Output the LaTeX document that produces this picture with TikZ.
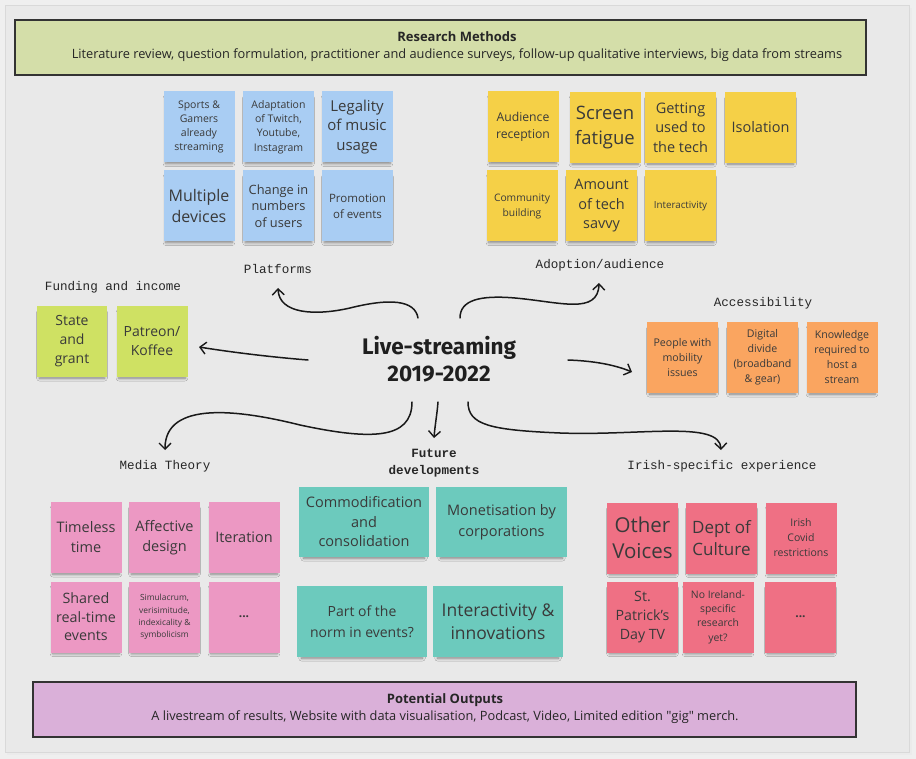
\documentclass[tikz,border=0pt]{standalone}
\usepackage{fontspec}
\setmainfont{Open Sans}
\newfontfamily\quotefont{Open Sans}
\newfontfamily\labfont{Liberation Mono}
\newfontfamily\hubfont{Fira Sans}
\usetikzlibrary{arrows.meta,shadows.blur}
\definecolor{bgout}{HTML}{EFEFEF}
\definecolor{bgpanel}{HTML}{E9E9E9}
\definecolor{rmgreen}{HTML}{D4DEA9}
\definecolor{popurple}{HTML}{DAB0D9}
\definecolor{nblue}{HTML}{A9CDF3}
\definecolor{nyellow}{HTML}{F5D047}
\definecolor{nlime}{HTML}{CFE163}
\definecolor{norange}{HTML}{FAA560}
\definecolor{npink}{HTML}{EC98C3}
\definecolor{nteal}{HTML}{6CCABD}
\definecolor{nred}{HTML}{EF7084}
\definecolor{ntext}{HTML}{3A3A3A}
\newcommand\fsz[2]{\fontsize{#1}{#2}\selectfont}
\begin{document}
\begin{tikzpicture}[x=1pt,y=-1pt,
  note/.style={rectangle, minimum width=71pt, minimum height=71pt, inner sep=1pt,
    align=center, text=ntext,
    blur shadow={shadow xshift=0pt, shadow yshift=-4pt, shadow scale=0.93,
      shadow opacity=45, shadow blur steps=6, shadow blur radius=3pt}},
  wide/.style={minimum width=130pt, minimum height=70pt},
  lab/.style={font=\labfont\fsz{12.6}{15}, text=black!85, align=center, inner sep=1pt},
  band/.style={draw=black!80, line width=1.5pt, inner sep=0pt},
  bandtext/.style={align=center, text=black!85, font=\fsz{12.8}{17}, inner sep=0pt},
  arr/.style={line width=1.5pt, black!90, line cap=round,
    -{Straight Barb[length=6pt,width=12pt,line width=1.4pt]}}
]
\useasboundingbox (0,0) rectangle (916,759);
\fill[bgout] (0,0) rectangle (916,759);
\fill[black!8] (7,8) rectangle (912,755);
\filldraw[fill=bgpanel, draw=black!15, line width=0.8pt] (5,5) rectangle (909,752);

% bands
\node[band, fill=rmgreen, minimum width=851pt, minimum height=55pt] (rm) at (440.5,47.5) {};
\node[bandtext] (rmtext) at (457,47)
  {{\bfseries\fsz{13}{17}Research Methods}\\
   Literature review, question formulation, practitioner and audience surveys, follow-up qualitative interviews, big data from streams};
\node[band, fill=popurple, minimum width=823pt, minimum height=55pt] (po) at (444.5,709.5) {};
\node[bandtext] (potext) at (445,708.5)
  {{\bfseries\fsz{13}{17}Potential Outputs}\\
   A livestream of results, Website with data visualisation, Podcast, Video, Limited edition {\quotefont"}gig{\quotefont"} merch.};

% Platforms
\node[note, fill=nblue, font=\fsz{10.5}{14.3}] (pl1) at (199,127) {Sports \&\\Gamers\\already\\streaming};
\node[note, fill=nblue, font=\fsz{10.5}{14.3}] (pl2) at (278.5,127) {Adaptation\\of Twitch,\\Youtube,\\Instagram};
\node[note, fill=nblue, font=\fsz{15}{19.5}] (pl3) at (357,127) {Legality\\of music\\usage};
\node[note, fill=nblue, font=\fsz{16}{21}] (pl4) at (199,206) {Multiple\\devices};
\node[note, fill=nblue, font=\fsz{12.8}{16.7}] (pl5) at (278.5,206) {Change in\\numbers\\of users};
\node[note, fill=nblue, font=\fsz{11.5}{16}] (pl6) at (357.5,206) {Promotion\\of events};
\node[lab] (platforms) at (278,269) {Platforms};

% Adoption
\node[note, fill=nyellow, font=\fsz{12.2}{17.5}] (ad1) at (523,127) {Audience\\reception};
\node[note, fill=nyellow, font=\fsz{18.5}{25}] (ad2) at (605,127.5) {Screen\\fatigue};
\node[note, fill=nyellow, font=\fsz{14.5}{19.3}] (ad3) at (680.5,127.5) {Getting\\used to\\the tech};
\node[note, fill=nyellow, font=\fsz{14.5}{19.3}] (ad4) at (760.5,127.5) {Isolation};
\node[note, fill=nyellow, font=\fsz{10.3}{15}] (ad5) at (522,206) {Community\\building};
\node[note, fill=nyellow, font=\fsz{14.5}{19.5}] (ad6) at (601.5,206) {Amount\\of tech\\savvy};
\node[note, fill=nyellow, font=\fsz{9.8}{13}] (ad7) at (680.5,206) {Interactivity};
\node[lab] (adoption) at (600,265) {Adoption/audience};

% Funding
\node[lab] (funding) at (113,287) {Funding and income};
\node[note, fill=nlime, minimum width=70pt, font=\fsz{14}{19}] (fu1) at (72,341.5) {State\\and\\grant};
\node[note, fill=nlime, font=\fsz{14}{19}] (fu2) at (152,341.5) {Patreon/\\Koffee};

% Accessibility
\node[lab] (access) at (763,303) {Accessibility};
\node[note, fill=norange, font=\fsz{10.6}{15}] (ac1) at (682.5,357.5) {People with\\mobility\\issues};
\node[note, fill=norange, font=\fsz{10.6}{15}] (ac2) at (762.5,357.5) {Digital\\divide\\(broadband\\\& gear)};
\node[note, fill=norange, font=\fsz{10.6}{15}] (ac3) at (842,357.5) {Knowledge\\required to\\host a\\stream};

% Media theory
\node[lab] (media) at (165,466) {Media Theory};
\node[note, fill=npink, font=\fsz{14.5}{20}] (mt1) at (86,537.5) {Timeless\\time};
\node[note, fill=npink, font=\fsz{14.5}{20}] (mt2) at (164.5,537.5) {Affective\\design};
\node[note, fill=npink, font=\fsz{14.5}{20}] (mt3) at (244,537.5) {Iteration};
\node[note, fill=npink, font=\fsz{14.3}{18.5}] (mt4) at (86,617) {Shared\\real-time\\events};
\node[note, fill=npink, font=\fsz{8.4}{12.3}] (mt5) at (164.5,617) {Simulacrum,\\verisimitude,\\indexicality \&\\symbolicism};
\node[note, fill=npink, font=\bfseries\fsz{12}{16}] (mt6) at (244,617) {...};

% Future
\node[lab, font=\labfont\bfseries\fsz{12.6}{17}] (future) at (434,463) {Future\\developments};
\node[note, wide, fill=nteal, font=\fsz{14.5}{19.5}] (fd1) at (364,522) {Commodification\\and\\consolidation};
\node[note, wide, fill=nteal, minimum width=131pt, font=\fsz{14.5}{20.5}] (fd2) at (501.5,522) {Monetisation by\\corporations};
\node[note, wide, fill=nteal, minimum height=71pt, font=\fsz{14}{21}] (fd3) at (362,621.5) {Part of the\\norm in events?};
\node[note, wide, fill=nteal, minimum height=71pt, font=\fsz{17.5}{23}] (fd4) at (498,621.5) {Interactivity \&\\innovations};

% Irish
\node[lab] (irish) at (722,466) {Irish-specific experience};
\node[note, fill=nred, font=\fsz{20.5}{26.5}] (ir1) at (642.5,538) {Other\\Voices};
\node[note, fill=nred, font=\fsz{17}{22.5}] (ir2) at (721.5,538) {Dept of\\Culture};
\node[note, fill=nred, font=\fsz{10.5}{15}] (ir3) at (801,538) {Irish\\Covid\\restrictions};
\node[note, fill=nred, font=\fsz{14.2}{18.7}] (ir4) at (642.5,617) {St.\\Patrick's\\Day TV};
\node[note, fill=nred, font=\fsz{10.4}{14.3}] (ir5) at (718,617) {No Ireland-\\specific\\research\\yet?};
\node[note, fill=nred, font=\bfseries\fsz{12}{16}] (ir6) at (800.5,617) {...};

% hub
\node[font=\hubfont\bfseries\fsz{22.5}{27}, text=black!88, align=center] (hub) at (439,359)
  {Live-streaming\\2019-2022};

% arrow ends
\coordinate (s1) at (418,318); \coordinate (e1) at (278,288);
\coordinate (s2) at (460,318); \coordinate (e2) at (599,283);
\coordinate (s3) at (308,360); \coordinate (e3) at (199,347);
\coordinate (s4) at (568,360); \coordinate (e4) at (632,372);
\coordinate (s5) at (412,402); \coordinate (e5) at (165,450);
\coordinate (s6) at (438,402); \coordinate (e6) at (434,438);
\coordinate (s7) at (468,402); \coordinate (e7) at (721,450);

\draw[arr] (s1) .. controls (415,300) and (390,298) .. (350,308)
                .. controls (315,316) and (279,314) .. (e1);
\draw[arr] (s2) .. controls (460,300) and (480,295) .. (515,298)
                .. controls (560,302) and (598,315) .. (e2);
\draw[arr] (s3) .. controls (270,357) and (230,352) .. (e3);
\draw[arr] (s4) .. controls (595,361) and (615,365) .. (e4);
\draw[arr] (s5) .. controls (412,440) and (370,440) .. (300,425)
                .. controls (240,410) and (165,400) .. (e5);
\draw[arr] (s6) .. controls (437,415) and (435,425) .. (e6);
\draw[arr] (s7) .. controls (468,425) and (490,430) .. (560,433)
                .. controls (640,436) and (720,420) .. (e7);
\end{tikzpicture}
\end{document}
